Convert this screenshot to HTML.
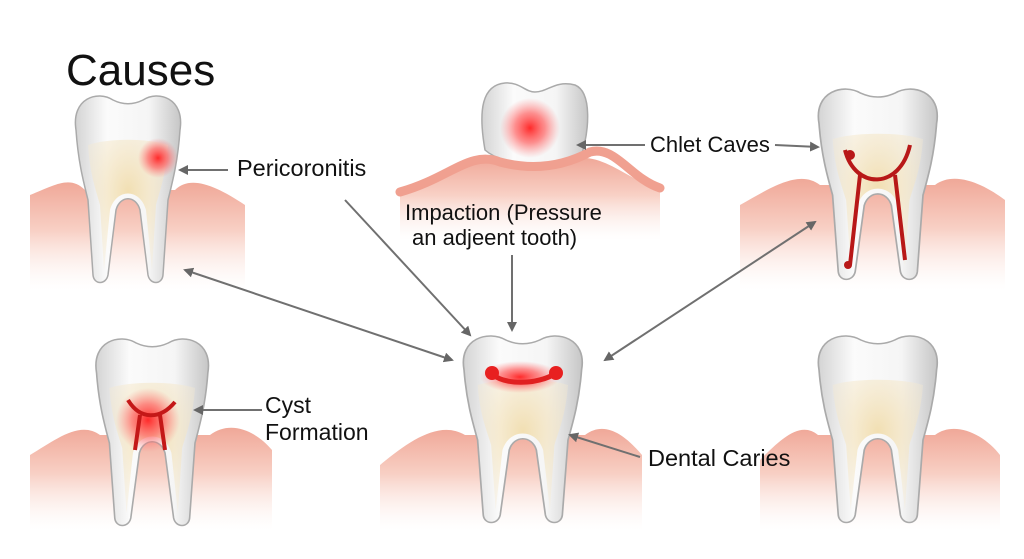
<!DOCTYPE html>
<html><head><meta charset="utf-8"><style>
html,body{margin:0;padding:0;background:#fff;}
svg{display:block;}
text{font-family:"Liberation Sans",sans-serif;fill:#111;}
</style></head><body>
<svg width="1024" height="559" viewBox="0 0 1024 559" xmlns="http://www.w3.org/2000/svg">
<defs>
<linearGradient id="tg" x1="0" y1="0" x2="1" y2="0">
<stop offset="0" stop-color="#d4d4d4"/><stop offset="0.3" stop-color="#fbfbfb"/><stop offset="0.7" stop-color="#f5f5f5"/><stop offset="1" stop-color="#c6c6c6"/></linearGradient>
<linearGradient id="gum" x1="0" y1="0" x2="0" y2="1">
<stop offset="0" stop-color="#f0a898"/><stop offset="0.45" stop-color="#f8d0c5"/><stop offset="1" stop-color="#fdf0ec" stop-opacity="0"/></linearGradient>
<radialGradient id="red"><stop offset="0" stop-color="#ff2a2a"/><stop offset="0.5" stop-color="#ff6060" stop-opacity="0.7"/><stop offset="1" stop-color="#ff8080" stop-opacity="0"/></radialGradient>
<radialGradient id="yel" cx="0.5" cy="0.4" r="0.6"><stop offset="0" stop-color="#f1dcaa"/><stop offset="1" stop-color="#f6ead0" stop-opacity="0.4"/></radialGradient>
<marker id="ah" markerWidth="10" markerHeight="10" refX="8" refY="5" orient="auto-start-reverse" markerUnits="userSpaceOnUse">
<path d="M0,0 L10,5 L0,10 Z" fill="#666"/></marker>
<g id="tooth">
<path d="M8,40 C3,8 30,0 45,10 C55,15 65,15 75,10 C90,0 117,8 112,40 C110,70 105,90 100,110 L95,185 C94,195 82,195 80,185 L72,120 C68,105 52,105 48,120 L40,185 C38,195 26,195 25,185 L20,110 C15,90 10,70 8,40 Z" fill="url(#tg)" stroke="#aaa" stroke-width="1.5"/>
<path d="M20,55 C40,48 80,48 100,55 C98,85 92,100 88,115 L84,180 L78,120 C72,98 48,98 42,120 L36,180 L32,115 C28,100 22,85 20,55 Z" fill="url(#yel)" opacity="0.9"/>
</g>
</defs>
<rect width="1024" height="559" fill="#fff"/>

<!-- gums (behind teeth) -->
<path d="M30,195 C55,185 70,175 85,190 L175,190 C190,175 215,185 245,205 L245,290 L30,290 Z" fill="url(#gum)"/>
<path d="M740,205 C775,185 800,170 820,185 L935,185 C955,170 985,185 1005,200 L1005,290 L740,290 Z" fill="url(#gum)"/>
<path d="M30,455 C55,440 80,420 100,435 L210,435 C230,420 255,430 272,450 L272,530 L30,530 Z" fill="url(#gum)"/>
<path d="M380,465 C410,440 440,420 465,435 L585,435 C605,420 625,435 642,455 L642,530 L380,530 Z" fill="url(#gum)"/>
<path d="M760,460 C780,440 800,420 818,435 L935,435 C955,420 985,435 1000,455 L1000,530 L760,530 Z" fill="url(#gum)"/>
<path d="M400,190 C450,178 470,150 500,160 L570,160 C600,150 625,178 660,190 L660,240 L400,240 Z" fill="url(#gum)"/>

<!-- teeth -->
<use href="#tooth" transform="translate(68,90) scale(1.0,1.0)"/>
<use href="#tooth" transform="translate(810,83) scale(1.13,1.02)"/>
<use href="#tooth" transform="translate(88,333) scale(1.07,1.0)"/>
<use href="#tooth" transform="translate(455,330) scale(1.13,1.0)"/>
<use href="#tooth" transform="translate(810,330) scale(1.13,1.0)"/>
<!-- top center crown -->
<path d="M485,150 C478,110 482,85 505,83 C520,82 525,92 535,92 C548,92 555,80 575,85 C592,92 590,130 580,160 C560,168 505,168 485,150 Z" fill="url(#tg)" stroke="#aaa" stroke-width="1.5"/>
<path d="M400,192 C450,178 470,150 500,162 C530,170 560,168 590,152 C615,145 630,178 660,188" fill="none" stroke="#f0a090" stroke-width="9" stroke-linecap="round"/>

<!-- red areas -->
<circle cx="158" cy="158" r="20" fill="url(#red)"/>
<circle cx="530" cy="128" r="30" fill="url(#red)"/>
<circle cx="148" cy="420" r="32" fill="url(#red)"/>
<path d="M128,400 C140,420 160,420 175,402 M140,415 L135,450 M160,415 L165,450" stroke="#c41818" stroke-width="4" fill="none"/>
<path d="M845,150 C855,190 900,190 910,145 M860,175 L850,265 M895,175 L905,260" stroke="#b81818" stroke-width="4" fill="none"/>
<circle cx="850" cy="155" r="5" fill="#b81818"/><circle cx="848" cy="265" r="4" fill="#b81818"/>
<ellipse cx="520" cy="377" rx="40" ry="16" fill="url(#red)"/>
<path d="M492,374 C505,385 535,385 555,374" stroke="#e02020" stroke-width="5" fill="none"/>
<circle cx="492" cy="373" r="7" fill="#e82020"/><circle cx="556" cy="373" r="7" fill="#e82020"/>

<!-- arrows -->
<g stroke="#707070" stroke-width="2" fill="none">
<line x1="228" y1="170" x2="180" y2="170" marker-end="url(#ah)"/>
<line x1="345" y1="200" x2="470" y2="335" marker-end="url(#ah)"/>
<line x1="512" y1="255" x2="512" y2="330" marker-end="url(#ah)"/>
<line x1="645" y1="145" x2="578" y2="145" marker-end="url(#ah)"/>
<line x1="775" y1="145" x2="818" y2="147" marker-end="url(#ah)"/>
<line x1="185" y1="270" x2="452" y2="360" marker-start="url(#ah)" marker-end="url(#ah)"/>
<line x1="815" y1="222" x2="605" y2="360" marker-start="url(#ah)" marker-end="url(#ah)"/>
<line x1="262" y1="410" x2="195" y2="410" marker-end="url(#ah)"/>
<line x1="640" y1="457" x2="570" y2="435" marker-end="url(#ah)"/>
</g>

<!-- text -->
<text x="66" y="85" font-size="44">Causes</text>
<text x="237" y="176" font-size="23.5">Pericoronitis</text>
<text x="405" y="220" font-size="22">Impaction (Pressure</text>
<text x="412" y="245" font-size="22">an adjeent tooth)</text>
<text x="650" y="152" font-size="22">Chlet Caves</text>
<text x="265" y="413" font-size="23">Cyst</text>
<text x="265" y="440" font-size="23">Formation</text>
<text x="648" y="466" font-size="23.5">Dental Caries</text>
</svg>
</body></html>
